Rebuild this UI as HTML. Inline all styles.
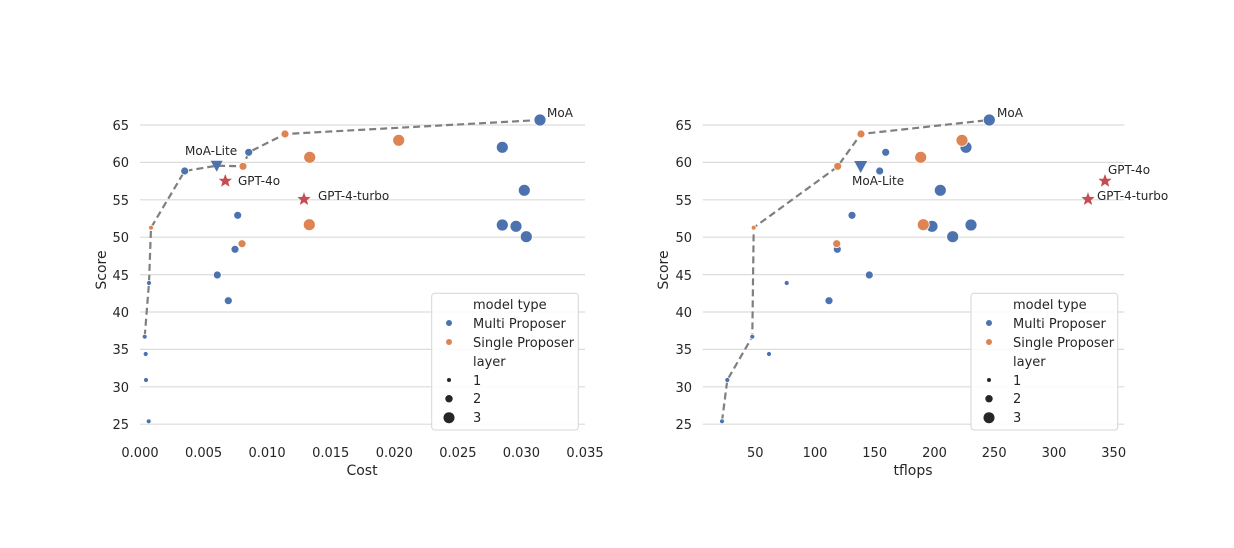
<!DOCTYPE html>
<html><head><meta charset="utf-8"><style>body{margin:0;background:#fff}svg{display:block}text{font-family:"DejaVu Sans","Liberation Sans",sans-serif;fill:#262626}</style></head><body>
<svg width="1234" height="548" viewBox="0 0 1234 548" xmlns="http://www.w3.org/2000/svg">
<defs>
<symbol id="star" viewBox="-10 -10 20 20" overflow="visible"><polygon points="0,-7 1.8,-2.3 6.7,-2.2 2.9,0.9 4.2,5.7 0,3 -4.2,5.7 -2.9,0.9 -6.7,-2.2 -1.8,-2.3" fill="#c44e52"/></symbol>
</defs>
<!-- LEFT CHART -->
<g stroke="#dcdcdc" stroke-width="1.2">
<line x1="140" x2="585" y1="125" y2="125"/><line x1="140" x2="585" y1="162.4" y2="162.4"/><line x1="140" x2="585" y1="199.8" y2="199.8"/><line x1="140" x2="585" y1="237.2" y2="237.2"/><line x1="140" x2="585" y1="274.6" y2="274.6"/><line x1="140" x2="585" y1="312" y2="312"/><line x1="140" x2="585" y1="349.4" y2="349.4"/><line x1="140" x2="585" y1="386.8" y2="386.8"/><line x1="140" x2="585" y1="424.2" y2="424.2"/>
</g>
<g font-size="13" text-anchor="end">
<text x="129" y="130">65</text><text x="129" y="167">60</text><text x="129" y="205">55</text><text x="129" y="242">50</text><text x="129" y="280">45</text><text x="129" y="317">40</text><text x="129" y="354">35</text><text x="129" y="392">30</text><text x="129" y="429">25</text>
</g>
<g font-size="13" text-anchor="middle">
<text x="140" y="457">0.000</text><text x="203.6" y="457">0.005</text><text x="267.1" y="457">0.010</text><text x="330.7" y="457">0.015</text><text x="394.3" y="457">0.020</text><text x="457.9" y="457">0.025</text><text x="521.4" y="457">0.030</text><text x="585" y="457">0.035</text>
</g>
<text x="362" y="475" font-size="14" text-anchor="middle">Cost</text>
<text transform="translate(106,270) rotate(-90)" font-size="14" text-anchor="middle">Score</text>
<polyline points="144.7,336.7 149,283 151,227.7 184.7,171 216.7,165.7 243,166.3 248.7,152.3 285,134 540,120" fill="none" stroke="#7f7f7f" stroke-width="2.2" stroke-dasharray="7,4"/>
<g fill="#4c72b0" stroke="#fff" stroke-width="0.8">
<circle cx="540" cy="120" r="6"/><circle cx="502.3" cy="147.3" r="6"/><circle cx="524.3" cy="190.3" r="6"/><circle cx="502.3" cy="225" r="6"/><circle cx="516" cy="226.3" r="6"/><circle cx="526.3" cy="236.7" r="6"/>
<circle cx="248.7" cy="152.3" r="4"/><circle cx="184.7" cy="171" r="4"/><circle cx="237.7" cy="215.3" r="4"/><circle cx="235" cy="249.3" r="4"/><circle cx="217.3" cy="275" r="4"/><circle cx="228.3" cy="300.7" r="4"/>
<circle cx="149" cy="283" r="2.5"/><circle cx="144.7" cy="336.7" r="2.5"/><circle cx="145.7" cy="354" r="2.5"/><circle cx="146" cy="380" r="2.5"/><circle cx="148.7" cy="421.3" r="2.5"/>
</g>
<g fill="#dd8452" stroke="#fff" stroke-width="0.8">
<circle cx="398.7" cy="140.3" r="6"/><circle cx="309.7" cy="157.3" r="6"/><circle cx="309.3" cy="224.7" r="6"/>
<circle cx="285" cy="134" r="4"/><circle cx="243" cy="166.3" r="4"/><circle cx="242" cy="243.7" r="4"/>
<circle cx="151" cy="227.7" r="2.5"/>
</g>
<polygon points="210.7,160.7 222.7,160.7 216.7,171.7" fill="#4c72b0"/>
<use href="#star" x="215.3" y="171" width="20" height="20"/>
<use href="#star" x="294" y="189.3" width="20" height="20"/>
<g font-size="12">
<text x="185" y="155">MoA-Lite</text><text x="238" y="185">GPT-4o</text><text x="318" y="200">GPT-4-turbo</text><text x="547" y="117">MoA</text>
</g>
<rect x="431.7" y="293.3" width="146.6" height="136.7" rx="3" fill="#fff" fill-opacity="0.85" stroke="#d6d6d6"/>
<g font-size="13">
<text x="473" y="309">model type</text><text x="473" y="328">Multi Proposer</text><text x="473" y="347">Single Proposer</text><text x="473" y="366">layer</text><text x="473" y="385">1</text><text x="473" y="403">2</text><text x="473" y="422">3</text>
</g>
<circle cx="449" cy="323" r="3" fill="#4c72b0"/><circle cx="449" cy="342" r="3" fill="#dd8452"/>
<circle cx="449" cy="380" r="2" fill="#262626"/><circle cx="449" cy="398.7" r="3.7" fill="#262626"/><circle cx="449" cy="417.7" r="5.5" fill="#262626"/>

<!-- RIGHT CHART -->
<g stroke="#dcdcdc" stroke-width="1.2">
<line x1="702.7" x2="1124.3" y1="125" y2="125"/><line x1="702.7" x2="1124.3" y1="162.4" y2="162.4"/><line x1="702.7" x2="1124.3" y1="199.8" y2="199.8"/><line x1="702.7" x2="1124.3" y1="237.2" y2="237.2"/><line x1="702.7" x2="1124.3" y1="274.6" y2="274.6"/><line x1="702.7" x2="1124.3" y1="312" y2="312"/><line x1="702.7" x2="1124.3" y1="349.4" y2="349.4"/><line x1="702.7" x2="1124.3" y1="386.8" y2="386.8"/><line x1="702.7" x2="1124.3" y1="424.2" y2="424.2"/>
</g>
<g font-size="13" text-anchor="end">
<text x="692" y="130">65</text><text x="692" y="167">60</text><text x="692" y="205">55</text><text x="692" y="242">50</text><text x="692" y="280">45</text><text x="692" y="317">40</text><text x="692" y="354">35</text><text x="692" y="392">30</text><text x="692" y="429">25</text>
</g>
<g font-size="13" text-anchor="middle">
<text x="755.3" y="457">50</text><text x="815" y="457">100</text><text x="874.7" y="457">150</text><text x="934.5" y="457">200</text><text x="994.2" y="457">250</text><text x="1054" y="457">300</text><text x="1113.7" y="457">350</text>
</g>
<text x="913" y="475" font-size="14" text-anchor="middle">tflops</text>
<text transform="translate(668,270) rotate(-90)" font-size="14" text-anchor="middle">Score</text>
<polyline points="722,421.3 727.3,380 752.3,336.7 753.7,227.7 833,170 837.7,166.3 861,134 989.3,120" fill="none" stroke="#7f7f7f" stroke-width="2.2" stroke-dasharray="7,4"/>
<g fill="#4c72b0" stroke="#fff" stroke-width="0.8">
<circle cx="989.3" cy="120" r="6"/><circle cx="966" cy="147.3" r="6"/><circle cx="940.3" cy="190.3" r="6"/><circle cx="932" cy="226.3" r="6"/><circle cx="971" cy="225" r="6"/><circle cx="952.7" cy="236.7" r="6"/>
<circle cx="885.7" cy="152.3" r="4"/><circle cx="879.7" cy="171" r="4"/><circle cx="852" cy="215.3" r="4"/><circle cx="837.3" cy="249.3" r="4"/><circle cx="869.3" cy="275" r="4"/><circle cx="829" cy="300.7" r="4"/>
<circle cx="786.7" cy="283" r="2.5"/><circle cx="752.3" cy="336.7" r="2.5"/><circle cx="769" cy="354" r="2.5"/><circle cx="727.3" cy="380" r="2.5"/><circle cx="722" cy="421.3" r="2.5"/>
</g>
<g fill="#dd8452" stroke="#fff" stroke-width="0.8">
<circle cx="962" cy="140.3" r="6"/><circle cx="920.7" cy="157.3" r="6"/><circle cx="923.3" cy="224.7" r="6"/>
<circle cx="861" cy="134" r="4"/><circle cx="837.7" cy="166.3" r="4"/><circle cx="836.7" cy="243.7" r="4"/>
<circle cx="753.7" cy="227.7" r="2.5"/>
</g>
<polygon points="854.2,161 867.2,161 860.7,173" fill="#4c72b0"/>
<use href="#star" x="1095" y="171" width="20" height="20"/>
<use href="#star" x="1078" y="189.3" width="20" height="20"/>
<g font-size="12">
<text x="852" y="185">MoA-Lite</text><text x="1108" y="174">GPT-4o</text><text x="1097" y="200">GPT-4-turbo</text><text x="997" y="117">MoA</text>
</g>
<rect x="971" y="293.3" width="146.7" height="136.7" rx="3" fill="#fff" fill-opacity="0.85" stroke="#d6d6d6"/>
<g font-size="13">
<text x="1013" y="309">model type</text><text x="1013" y="328">Multi Proposer</text><text x="1013" y="347">Single Proposer</text><text x="1013" y="366">layer</text><text x="1013" y="385">1</text><text x="1013" y="403">2</text><text x="1013" y="422">3</text>
</g>
<circle cx="989" cy="323" r="3" fill="#4c72b0"/><circle cx="989" cy="342" r="3" fill="#dd8452"/>
<circle cx="989" cy="380" r="2" fill="#262626"/><circle cx="989" cy="398.7" r="3.7" fill="#262626"/><circle cx="989" cy="417.7" r="5.5" fill="#262626"/>
</svg>
</body></html>
